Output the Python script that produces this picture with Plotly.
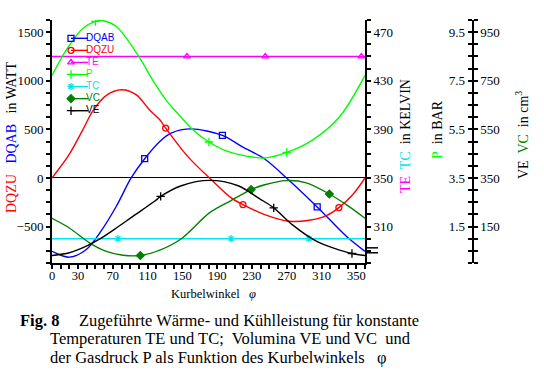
import plotly.graph_objects as go

# ---------------- data ----------------
ANG_DQAB = [0, 20, 39.5, 55, 74, 91, 106.6, 124, 137, 160, 196, 218, 244.6, 271, 305, 338.5, 360]
DQAB = [-755, -815, -736, -565, -291, 0, 198, 376, 462, 505, 438, 325, 195, -10, -298, -600, -755]
MARK_DQAB = [106.6, 196, 305]

ANG_DQZU = [0, 20, 35.7, 47, 62.5, 79.8, 97, 112, 124, 130.7, 156, 183, 206, 219.6, 244.6, 273, 296, 315.5, 330, 346, 360]
DQZU = [0, 245, 500, 690, 850, 907, 855, 701, 598, 513, 222, -17, -205, -274, -377, -446, -435, -387, -305, -171, 0]
MARK_DQZU = [130.7, 219.6, 330]

ANG_TE = [0, 155.2, 245.3, 355.8, 360]
TE = [450, 450, 450, 450, 450]
MARK_TE = [155.2, 245.3, 355.8]

ANG_TC = [0, 75.9, 206, 295.5, 360]
TC = [300, 300, 300, 300, 300]
MARK_TC = [75.9, 206, 295.5]

ANG_P = [0, 16.5, 35.6, 50, 56.8, 74, 99, 118, 133, 141, 162, 180.5, 202, 225, 244.6, 270, 300, 331, 360]
P = [7.72, 8.77, 9.66, 9.94, 9.98, 9.73, 8.54, 7.40, 6.62, 6.30, 5.48, 4.98, 4.59, 4.39, 4.32, 4.55, 5.07, 6.03, 7.72]
MARK_P = [50, 180.5, 270]

ANG_VE = [0, 20, 39.5, 55, 74, 93, 118, 125, 148.8, 181, 214, 239, 255, 277, 304, 325, 345, 360]
VE = [31, 42, 69, 99, 144, 192, 254, 274, 318, 340, 318, 264, 227, 156, 90, 60, 39, 31]
MARK_VE = [125, 255, 345]

ANG_VC = [0, 20, 43, 62.5, 81.6, 101.6, 124, 148.8, 181, 205, 229, 244.6, 269.5, 292.5, 319, 338.5, 360]
VC = [184, 144, 83, 48, 32, 31, 53, 100, 206, 255, 302, 322, 339, 330, 284, 240, 184]
MARK_VC = [101.6, 229, 319]

X_TICKS = [0, 30, 70, 110, 150, 190, 230, 270, 310, 350]
W_TICKS = [-500, 0, 500, 1000, 1500]
K_TICKS = [310, 350, 390, 430, 470]
P_TICKS = [1.5, 3.5, 5.5, 7.5, 9.5]
V_TICKS = [150, 350, 550, 750, 950]

LEGEND_NAMES = ["DQAB", "DQZU", "TE", "P", "TC", "VC", "VE"]

# ---------------- styling ----------------
W, H = 544, 386
ML, MR, MT, MB = 52, 10, 20, 123
PW = W - ML - MR
PH = H - MT - MB
XDOM = (365 - ML) / PW
PPOS = (472.7 - ML) / PW

def px_x(px):
    return (px - ML) / PW

def px_y(py):
    return (H - MB - py) / PH

SERIF = "Liberation Serif"
STYLE = {
    "DQAB": dict(color="#0000ff", symbol="square-open", axis="y"),
    "DQZU": dict(color="#ff0000", symbol="circle-open", axis="y"),
    "TE": dict(color="#ff00ff", symbol="triangle-up-open", axis="y2"),
    "P": dict(color="#00ff00", symbol="cross-thin-open", axis="y3"),
    "TC": dict(color="#00e5ee", symbol="asterisk-open", axis="y2"),
    "VC": dict(color="#008000", symbol="diamond", axis="y4"),
    "VE": dict(color="#000000", symbol="cross-thin-open", axis="y4"),
}
SERIES = {
    "DQAB": (ANG_DQAB, DQAB, MARK_DQAB),
    "DQZU": (ANG_DQZU, DQZU, MARK_DQZU),
    "TE": (ANG_TE, TE, MARK_TE),
    "P": (ANG_P, P, MARK_P),
    "TC": (ANG_TC, TC, MARK_TC),
    "VC": (ANG_VC, VC, MARK_VC),
    "VE": (ANG_VE, VE, MARK_VE),
}
MSIZE = 6

fig = go.Figure()

for name in ["TE", "TC", "VC", "VE", "P", "DQAB", "DQZU"]:
    xs, ys, marks = SERIES[name]
    st = STYLE[name]
    fig.add_trace(go.Scatter(
        x=xs, y=ys, mode="lines", yaxis=st["axis"], xaxis="x",
        line=dict(color=st["color"], width=1.4, shape="spline", smoothing=0.9),
        showlegend=False, hoverinfo="skip"))
    mx = [a for a in xs if a in marks]
    my = [v for a, v in zip(xs, ys) if a in marks]
    fig.add_trace(go.Scatter(
        x=mx, y=my, mode="markers", yaxis=st["axis"], xaxis="x",
        marker=dict(symbol=st["symbol"], size=MSIZE, color=st["color"],
                    line=dict(color=st["color"], width=1.3)),
        showlegend=False, hoverinfo="skip"))

# ---------------- custom compact legend (pixel overlay axes) ----------------
LEG_X0, LEG_X1, LEG_Y0, LEG_DY = 71, 88, 38.3, 12.07
for i, name in enumerate(LEGEND_NAMES):
    st = STYLE[name]
    yy = LEG_Y0 + i * LEG_DY
    fig.add_trace(go.Scatter(
        x=[LEG_X0, LEG_X1], y=[yy, yy], mode="lines", xaxis="x2", yaxis="y5",
        line=dict(color=st["color"], width=1.4), showlegend=False, hoverinfo="skip"))
    fig.add_trace(go.Scatter(
        x=[LEG_X0], y=[yy], mode="markers", xaxis="x2", yaxis="y5",
        marker=dict(symbol=st["symbol"], size=MSIZE, color=st["color"],
                    line=dict(color=st["color"], width=1.3)),
        showlegend=False, hoverinfo="skip"))
    fig.add_trace(go.Scatter(
        x=[LEG_X1 - 2], y=[yy], mode="text", text=[name], textposition="middle right",
        xaxis="x2", yaxis="y5",
        textfont=dict(family="Liberation Sans Narrow, Liberation Sans", size=10, color=st["color"]),
        showlegend=False, hoverinfo="skip"))

tickfont = dict(family=SERIF, size=13, color="black")
common = dict(showgrid=False, showline=True, linecolor="black", linewidth=2,
              ticks="outside", ticklen=4, tickwidth=2, tickcolor="black",
              tickfont=tickfont, fixedrange=True)
xcommon = dict(common)
xcommon["tickfont"] = dict(family=SERIF, size=12.5, color="black")

fig.update_layout(
    width=W, height=H,
    margin=dict(l=ML, r=MR, t=MT, b=MB, pad=0),
    paper_bgcolor="white", plot_bgcolor="rgba(0,0,0,0)",
    showlegend=False,
    xaxis=dict(domain=[0, XDOM], range=[0, 360], tickmode="array", tickvals=X_TICKS,
               zeroline=False, anchor="y", ticklabelstandoff=-4,
               minor=dict(dtick=10, tick0=0, ticks="outside", ticklen=4, tickwidth=2, tickcolor="black"),
               **xcommon),
    yaxis=dict(range=[-875, 1625], tickmode="array", tickvals=W_TICKS,
               zeroline=True, zerolinecolor="black", zerolinewidth=1, anchor="x",
               minor=dict(dtick=125, tick0=0, ticks="outside", ticklen=4, tickwidth=2, tickcolor="black"),
               **common),
    yaxis2=dict(range=[280, 480], overlaying="y", side="right", anchor="x",
                tickmode="array", tickvals=K_TICKS, zeroline=False,
                minor=dict(dtick=10, tick0=0, ticks="outside", ticklen=4, tickwidth=2, tickcolor="black"),
                **common),
    yaxis3=dict(range=[0, 10], overlaying="y", side="left", anchor="free", position=PPOS,
                tickmode="array", tickvals=P_TICKS, zeroline=False, automargin=False,
                minor=dict(dtick=0.5, tick0=0, ticks="outside", ticklen=4, tickwidth=2, tickcolor="black"),
                **common),
    yaxis4=dict(range=[0, 1000], overlaying="y", side="right", anchor="free", position=PPOS,
                tickmode="array", tickvals=V_TICKS, zeroline=False, automargin=False,
                minor=dict(dtick=50, tick0=0, ticks="outside", ticklen=4, tickwidth=2, tickcolor="black"),
                **common),
    xaxis2=dict(domain=[0, 1], range=[ML, W - MR], visible=False, anchor="y5", fixedrange=True),
    yaxis5=dict(domain=[0, 1], range=[H - MB, MT], visible=False, anchor="x2", fixedrange=True),
)

# two short marks at lower right of the plot frame
for wv in [-719, -770]:
    fig.add_shape(type="line", xref="paper", yref="y", x0=XDOM, x1=XDOM + 13 / PW,
                  y0=wv, y1=wv, line=dict(color="black", width=1.5))

ann = []
ann.append(dict(x=px_x(11), y=px_y(138), xref="paper", yref="paper", textangle=-90,
                text='<span style="color:#ff0000">DQZU</span>&nbsp;&nbsp; <span style="color:#0000ff">DQAB</span>&nbsp;&nbsp; in WATT',
                font=dict(family=SERIF, size=14, color="black"), showarrow=False,
                xanchor="center", yanchor="middle"))
ann.append(dict(x=px_x(405), y=px_y(136), xref="paper", yref="paper", textangle=-90,
                text='<span style="color:#ff00ff">TE</span>&nbsp; <span style="color:#00e5ee">TC</span>&nbsp; in KELVIN',
                font=dict(family=SERIF, size=14, color="black"), showarrow=False,
                xanchor="center", yanchor="middle"))
ann.append(dict(x=px_x(437), y=px_y(130), xref="paper", yref="paper", textangle=-90,
                text='<span style="color:#00ff00">P</span>&nbsp; in BAR',
                font=dict(family=SERIF, size=14, color="black"), showarrow=False,
                xanchor="center", yanchor="middle"))
ann.append(dict(x=px_x(522), y=px_y(135), xref="paper", yref="paper", textangle=-90,
                text='VE&nbsp; <span style="color:#008000">VC</span>&nbsp; in cm<sup>3</sup>',
                font=dict(family=SERIF, size=14, color="black"), showarrow=False,
                xanchor="center", yanchor="middle"))
ann.append(dict(x=px_x(213), y=px_y(294), xref="paper", yref="paper",
                text='Kurbelwinkel&nbsp;&nbsp; <i>φ</i>',
                font=dict(family=SERIF, size=12.5, color="black"), showarrow=False,
                xanchor="center", yanchor="middle"))
ann.append(dict(x=px_x(18), y=px_y(320), xref="paper", yref="paper",
                text='<b>Fig. 8</b>', font=dict(family=SERIF, size=16.5, color="black"),
                showarrow=False, xanchor="left", yanchor="middle"))
CAPTION = ["Zugeführte Wärme- und Kühlleistung für konstante",
           "Temperaturen TE und TC;&nbsp; Volumina VE und VC&nbsp; und",
           "der Gasdruck P als Funktion des Kurbelwinkels&nbsp;&nbsp; φ"]
CAP_X = [77, 48, 48]
CAP_Y = [320, 338.5, 357]
for t, cx, cy in zip(CAPTION, CAP_X, CAP_Y):
    ann.append(dict(x=px_x(cx), y=px_y(cy), xref="paper", yref="paper", text=t,
                    font=dict(family=SERIF, size=16.5, color="black"), showarrow=False,
                    xanchor="left", yanchor="middle"))
fig.update_layout(annotations=ann)

fig.write_html("out.html", config={"displayModeBar": False},
               post_script="document.body.style.margin='0';document.body.style.overflow='hidden';")
